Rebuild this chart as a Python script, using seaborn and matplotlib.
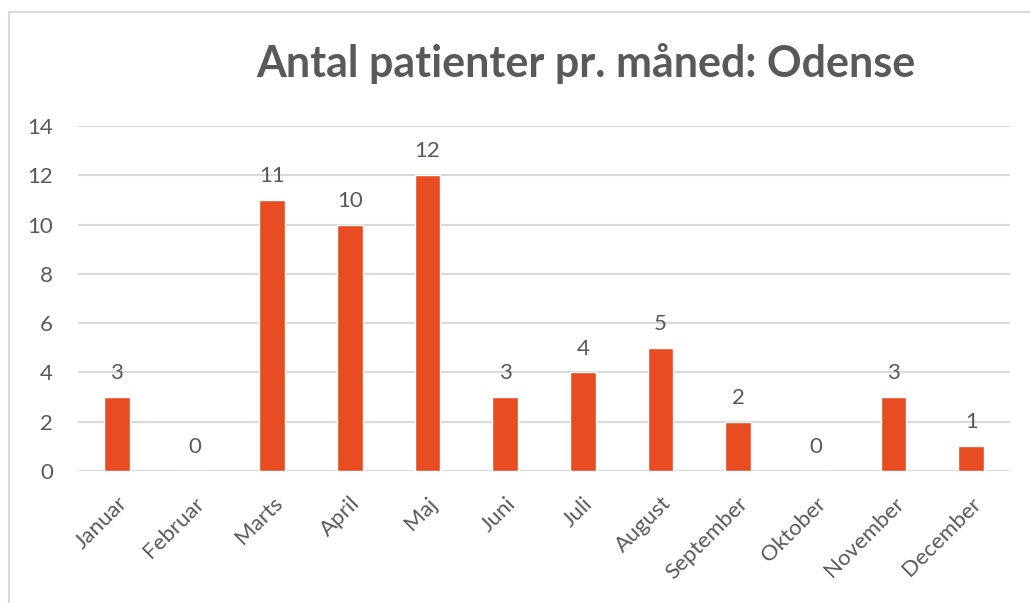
import matplotlib
matplotlib.use("Agg")
import matplotlib.pyplot as plt
from matplotlib.lines import Line2D
import seaborn as sns
import pandas as pd

months = ["Januar", "Februar", "Marts", "April", "Maj", "Juni", "Juli",
          "August", "September", "Oktober", "November", "December"]
patients = [3, 0, 11, 10, 12, 3, 4, 5, 2, 0, 3, 1]
title = "Antal patienter pr. måned: Odense"
yticks = [0, 2, 4, 6, 8, 10, 12, 14]

sns.set_style("white")
plt.rcParams['font.family'] = ['Lato', 'DejaVu Sans']

df = pd.DataFrame({"month": months, "patients": patients})
txt = "#595959"

fig = plt.figure(figsize=(10.30, 6.03), dpi=100)
ax = fig.add_axes([78/1030, 1-471/603, (1010-78)/1030, (471-126)/603])

sns.barplot(data=df, x="month", y="patients", color="#E84C22", width=0.33,
            saturation=1, ax=ax, zorder=3)

ax.set_ylim(0, 14)
ax.set_xlim(-0.5, 11.5)
ax.set_yticks(yticks)
ax.set_yticklabels([str(t) for t in yticks], fontsize=16, color=txt)
ax.yaxis.grid(True, color="#d9d9d9", linewidth=1.5, zorder=0)
ax.set_axisbelow(True)
ax.tick_params(axis="both", length=0)
ax.tick_params(axis="y", pad=18)
ax.tick_params(axis="x", pad=16)
for lab in ax.get_xticklabels():
    lab.set_rotation(45)
    lab.set_ha("right")
    lab.set_rotation_mode("anchor")
    lab.set_fontsize(16)
    lab.set_color(txt)
ax.set_xlabel("")
ax.set_ylabel("")
for s in ax.spines.values():
    s.set_visible(False)

for c in ax.containers:
    ax.bar_label(c, labels=[str(v) for v in patients], padding=10,
                 fontsize=16, color=txt)

fig.text(586/1030, 1-63/603, title, ha="center", va="center",
         fontsize=31, fontweight="bold", color=txt)

fig.add_artist(Line2D([9/1030, 1], [1-12/603, 1-12/603], color="#d9d9d9", lw=1.5))
fig.add_artist(Line2D([9/1030, 9/1030], [0, 1-12/603], color="#d9d9d9", lw=1.5))

fig.savefig("out.png", dpi=100)
